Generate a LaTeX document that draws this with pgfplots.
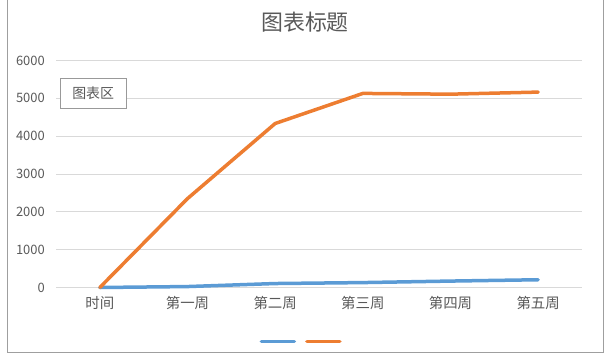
\documentclass[border=0pt]{standalone}
\usepackage{fontspec}
\setmainfont{Noto Sans CJK SC}
\usepackage{pgfplots}
\pgfplotsset{compat=1.18}
\definecolor{eblue}{HTML}{5B9BD5}
\definecolor{eorange}{HTML}{ED7D31}
\definecolor{txt}{HTML}{595959}
\definecolor{gridc}{HTML}{D9D9D9}
\begin{document}
\begin{tikzpicture}[x=1bp,y=1bp]
\path (0,0) rectangle (610,358);
\draw[gray!75, line width=1bp] (7,358) -- (7,6) -- (603,6) -- (603,358);
\begin{axis}[
  at={(56bp,71bp)}, anchor=south west,
  scale only axis, width=526bp, height=227bp,
  xmin=-0.5, xmax=5.5, ymin=0, ymax=6000,
  xtick=data,
  xticklabels={时间,第一周,第二周,第三周,第四周,第五周},
  ytick={0,1000,2000,3000,4000,5000,6000},
  /pgf/number format/assume math mode=true,
  /pgf/number format/1000 sep={},
  major tick length=0pt,
  axis line style={draw=none},
  ymajorgrids, grid style={gridc, line width=0.8bp},
  xticklabel style={inner sep=0pt, yshift=-9bp, font=\fontsize{14.5}{14.5}\selectfont, text=txt},
  yticklabel style={inner sep=0pt, xshift=-11bp, font=\fontsize{13}{13}\selectfont, text=txt},
  clip=false,
  legend columns=2,
  legend style={at={(rel axis cs:0.466,-0.238)}, anchor=center, draw=none, fill=none,
    nodes={inner sep=0pt}, /tikz/every even column/.append style={column sep=8bp}},
  legend image code/.code={\draw[#1, line width=3.5bp, line cap=round] (0bp,0bp) -- (33bp,0bp);},
]
\addplot[eblue, line width=3.5bp, line join=round, line cap=round] coordinates {(0,0) (1,25) (2,105) (3,130) (4,170) (5,205)};
\addlegendentry{\mbox{}}
\addplot[eorange, line width=3.5bp, line join=round, line cap=round] coordinates {(0,0) (1,2350) (2,4335) (3,5130) (4,5110) (5,5165)};
\addlegendentry{\mbox{}}
\node[draw=gray!80, fill=white, anchor=north west, minimum width=66bp, minimum height=30bp, inner sep=0pt, text=txt, font=\fontsize{14}{14}\selectfont] at (rel axis cs:0.0076,0.921) {图表区};
\end{axis}
\node[text=txt, font=\fontsize{22}{22}\selectfont] at (305,336) {图表标题};
\end{tikzpicture}
\end{document}
